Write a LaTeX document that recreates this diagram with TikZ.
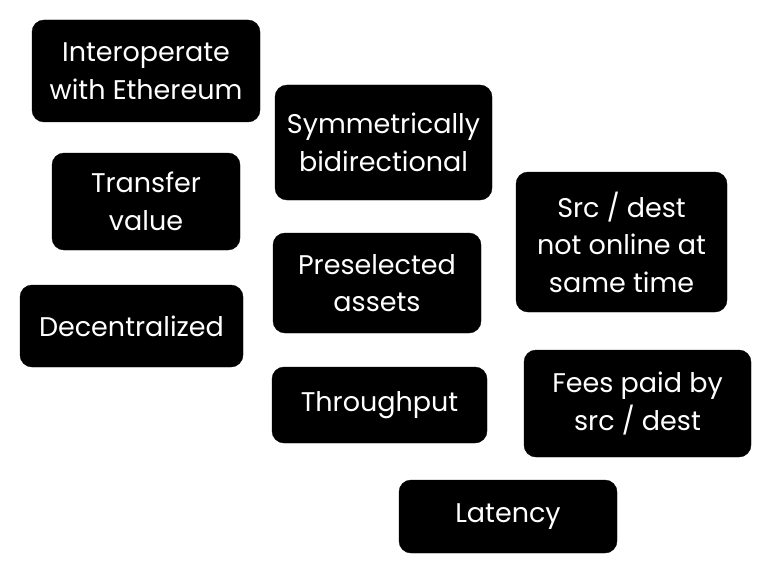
\documentclass[tikz,border=0pt]{standalone}
\usepackage{fontspec}
\setmainfont{Poppins}
\usepackage{tikz}

\begin{document}
\begin{tikzpicture}
[ x=1pt, y=-1pt
, card/.style={rectangle, rounded corners=12pt, fill=black, draw=black, text=white, align=center, inner sep=0pt, font=\fontsize{27}{37.5}\selectfont}
]
\useasboundingbox (0,0) rectangle (768,575);
% Left column:
\node (interop) [card, minimum width=228pt, minimum height=102pt] at (146,71) {Interoperate\\with Ethereum};
\node (transfer) [card, minimum width=188pt, minimum height=97pt] at (146,201.5) {Transfer\\value};
\node (decentral) [card, minimum width=223pt, minimum height=82pt] at (131.5,326) {Decentralized};
% Middle column:
\node (symmetric) [card, minimum width=217pt, minimum height=115pt] at (383.5,142.5) {Symmetrically\\bidirectional};
\node (preselect) [card, minimum width=208pt, minimum height=100pt] at (377,283) {Preselected\\assets};
\node (throughput) [card, minimum width=215pt, minimum height=76pt] at (379.5,405) {Throughput};
\node (latency) [card, minimum width=218pt, minimum height=73pt] at (508,516.5) {Latency};
% Right column:
\node (offline) [card, minimum width=211pt, minimum height=140pt] at (621.5,242) {Src / dest\\not online at\\same time};
\node (fees) [card, minimum width=227pt, minimum height=107pt] at (637.5,403.5) {Fees paid by\\src / dest};
\end{tikzpicture}
\end{document}
